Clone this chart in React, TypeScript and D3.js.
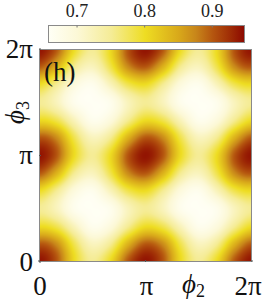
import { useMemo } from "react";
import * as d3 from "d3";

const W = 266;
const H = 301;
const PLOT = { left: 39, top: 49, right: 252, bottom: 262 };
const CBAR = { left: 48, top: 25, right: 244, bottom: 42 };

// grid positions, in units of pi, for both phi2 (columns) and phi3 (rows)
const PHI_GRID_PI = [0, 1 / 6, 1 / 3, 1 / 2, 2 / 3, 5 / 6, 1, 7 / 6, 4 / 3, 3 / 2, 5 / 3, 11 / 6, 2];

// values, rows go from phi3 = 0 up to phi3 = 2pi
const VALUES = [
  [0.94, 0.9, 0.8, 0.75, 0.8, 0.9, 0.94, 0.9, 0.8, 0.75, 0.8, 0.9, 0.94],
  [0.9, 0.87, 0.78, 0.72, 0.75, 0.84, 0.9, 0.87, 0.78, 0.72, 0.75, 0.84, 0.9],
  [0.8, 0.78, 0.72, 0.67, 0.69, 0.75, 0.8, 0.78, 0.72, 0.67, 0.69, 0.75, 0.8],
  [0.75, 0.72, 0.67, 0.66, 0.67, 0.72, 0.75, 0.72, 0.67, 0.66, 0.67, 0.72, 0.75],
  [0.8, 0.75, 0.69, 0.67, 0.72, 0.78, 0.8, 0.75, 0.69, 0.67, 0.72, 0.78, 0.8],
  [0.9, 0.84, 0.75, 0.72, 0.78, 0.87, 0.9, 0.84, 0.75, 0.72, 0.78, 0.87, 0.9],
  [0.94, 0.9, 0.8, 0.75, 0.8, 0.9, 0.94, 0.9, 0.8, 0.75, 0.8, 0.9, 0.94],
  [0.9, 0.87, 0.78, 0.72, 0.75, 0.84, 0.9, 0.87, 0.78, 0.72, 0.75, 0.84, 0.9],
  [0.8, 0.78, 0.72, 0.67, 0.69, 0.75, 0.8, 0.78, 0.72, 0.67, 0.69, 0.75, 0.8],
  [0.75, 0.72, 0.67, 0.66, 0.67, 0.72, 0.75, 0.72, 0.67, 0.66, 0.67, 0.72, 0.75],
  [0.8, 0.75, 0.69, 0.67, 0.72, 0.78, 0.8, 0.75, 0.69, 0.67, 0.72, 0.78, 0.8],
  [0.9, 0.84, 0.75, 0.72, 0.78, 0.87, 0.9, 0.84, 0.75, 0.72, 0.78, 0.87, 0.9],
  [0.94, 0.9, 0.8, 0.75, 0.8, 0.9, 0.94, 0.9, 0.8, 0.75, 0.8, 0.9, 0.94],
];

const X_TICKS = [0, Math.PI, 2 * Math.PI];
const X_LABELS = ["0", "π", "2π"];
const Y_TICKS = [0, Math.PI, 2 * Math.PI];
const Y_LABELS = ["0", "π", "2π"];
const CBAR_DOMAIN = [0.657, 0.947];
const CBAR_TICKS = [0.7, 0.8, 0.9];

// colormap stops (white -> yellow -> dark red)
const CMAP_VALUES = [0.657, 0.7, 0.75, 0.8, 0.85, 0.875, 0.9, 0.925, 0.947];
const CMAP_COLORS = ["#fffff6", "#fcf8d6", "#f5ec96", "#eedd22", "#d8a81a", "#c8861a", "#b5560f", "#a02e06", "#8c0800"];

const catmull = (p0: number, p1: number, p2: number, p3: number, t: number) =>
  0.5 * (2 * p1 + (-p0 + p2) * t + (2 * p0 - 5 * p1 + 4 * p2 - p3) * t * t + (-p0 + 3 * p1 - 3 * p2 + p3) * t * t * t);

export default function App() {
  const xScale = d3.scaleLinear().domain([0, 2 * Math.PI]).range([PLOT.left, PLOT.right]);
  const yScale = d3.scaleLinear().domain([0, 2 * Math.PI]).range([PLOT.bottom, PLOT.top]);
  const cScale = d3.scaleLinear().domain(CBAR_DOMAIN).range([CBAR.left, CBAR.right]);
  const color = d3
    .scaleLinear<string>()
    .domain(CMAP_VALUES)
    .range(CMAP_COLORS)
    .interpolate(d3.interpolateRgb)
    .clamp(true);

  const imgUrl = useMemo(() => {
    const pw = PLOT.right - PLOT.left;
    const ph = PLOT.bottom - PLOT.top;
    const canvas = document.createElement("canvas");
    canvas.width = pw;
    canvas.height = ph;
    const ctx = canvas.getContext("2d");
    if (!ctx) return "";
    const img = ctx.createImageData(pw, ph);
    const n = PHI_GRID_PI.length - 1; // periodic
    const step = (PHI_GRID_PI[1] - PHI_GRID_PI[0]) * Math.PI;
    const at = (i: number, j: number) => VALUES[((j % n) + n) % n][((i % n) + n) % n];
    for (let py = 0; py < ph; py++) {
      const v = yScale.invert(PLOT.top + py + 0.5) / step;
      const j = Math.floor(v);
      const tv = v - j;
      for (let px = 0; px < pw; px++) {
        const u = xScale.invert(PLOT.left + px + 0.5) / step;
        const i = Math.floor(u);
        const tu = u - i;
        const rows = [-1, 0, 1, 2].map((dj) =>
          catmull(at(i - 1, j + dj), at(i, j + dj), at(i + 1, j + dj), at(i + 2, j + dj), tu)
        );
        const val = catmull(rows[0], rows[1], rows[2], rows[3], tv);
        const c = d3.rgb(color(val));
        const k = (py * pw + px) * 4;
        img.data[k] = c.r;
        img.data[k + 1] = c.g;
        img.data[k + 2] = c.b;
        img.data[k + 3] = 255;
      }
    }
    ctx.putImageData(img, 0, 0);
    return canvas.toDataURL();
  }, []);

  const serif = "'Liberation Serif', 'DejaVu Serif', serif";
  const span = CBAR_DOMAIN[1] - CBAR_DOMAIN[0];

  return (
    <svg width={W} height={H} style={{ position: "absolute", left: 0, top: 0, background: "#fff" }}>
      <defs>
        <linearGradient id="cbar" x1="0" x2="1" y1="0" y2="0">
          {CMAP_VALUES.map((v, i) => (
            <stop key={i} offset={(v - CBAR_DOMAIN[0]) / span} stopColor={CMAP_COLORS[i]} />
          ))}
        </linearGradient>
      </defs>

      {/* colorbar */}
      <rect
        x={CBAR.left + 0.5}
        y={CBAR.top + 0.5}
        width={CBAR.right - CBAR.left}
        height={CBAR.bottom - CBAR.top}
        fill="url(#cbar)"
        stroke="#8a8a8a"
        strokeWidth={1}
      />
      {CBAR_TICKS.map((t) => (
        <g key={t}>
          <line x1={cScale(t)} x2={cScale(t)} y1={CBAR.top + 0.5} y2={CBAR.top + 2.5} stroke="#777" strokeWidth={1} />
          <text x={cScale(t)} y={17} textAnchor="middle" fontFamily={serif} fontSize={18} fill="#222">
            {t.toFixed(1)}
          </text>
        </g>
      ))}

      {/* heat map */}
      <image
        href={imgUrl}
        x={PLOT.left}
        y={PLOT.top}
        width={PLOT.right - PLOT.left}
        height={PLOT.bottom - PLOT.top}
        preserveAspectRatio="none"
      />
      <rect
        x={PLOT.left + 0.5}
        y={PLOT.top + 0.5}
        width={PLOT.right - PLOT.left - 1}
        height={PLOT.bottom - PLOT.top - 1}
        fill="none"
        stroke="#8a8a8a"
        strokeWidth={1}
      />
      {X_TICKS.map((t, i) => (
        <g key={"x" + i}>
          <line x1={xScale(t)} x2={xScale(t)} y1={PLOT.bottom} y2={PLOT.bottom - 2} stroke="#555" />
          <text
            x={xScale(t) + (i === X_TICKS.length - 1 ? -4 : 1)}
            y={295}
            textAnchor="middle"
            fontFamily={serif}
            fontSize={27}
            fill="#111"
          >
            {X_LABELS[i]}
          </text>
        </g>
      ))}
      {Y_TICKS.map((t, i) => (
        <g key={"y" + i}>
          <line x1={PLOT.left} x2={PLOT.left + 2} y1={yScale(t)} y2={yScale(t)} stroke="#555" />
          <text x={33} y={yScale(t) + 8.5} textAnchor="end" fontFamily={serif} fontSize={27} fill="#111">
            {Y_LABELS[i]}
          </text>
        </g>
      ))}

      {/* axis titles */}
      <text x={182} y={293} fontFamily={serif} fontSize={27} fill="#111">
        <tspan fontStyle="italic">ϕ</tspan>
        <tspan fontSize={18} dy={4}>2</tspan>
      </text>
      <text transform="translate(24,124) rotate(-90)" fontFamily={serif} fontSize={27} fill="#111">
        <tspan fontStyle="italic">ϕ</tspan>
        <tspan fontSize={18} dy={5}>3</tspan>
      </text>

      {/* panel label */}
      <text x={44} y={81} fontFamily={serif} fontSize={27} fill="#111">
        (h)
      </text>
    </svg>
  );
}
